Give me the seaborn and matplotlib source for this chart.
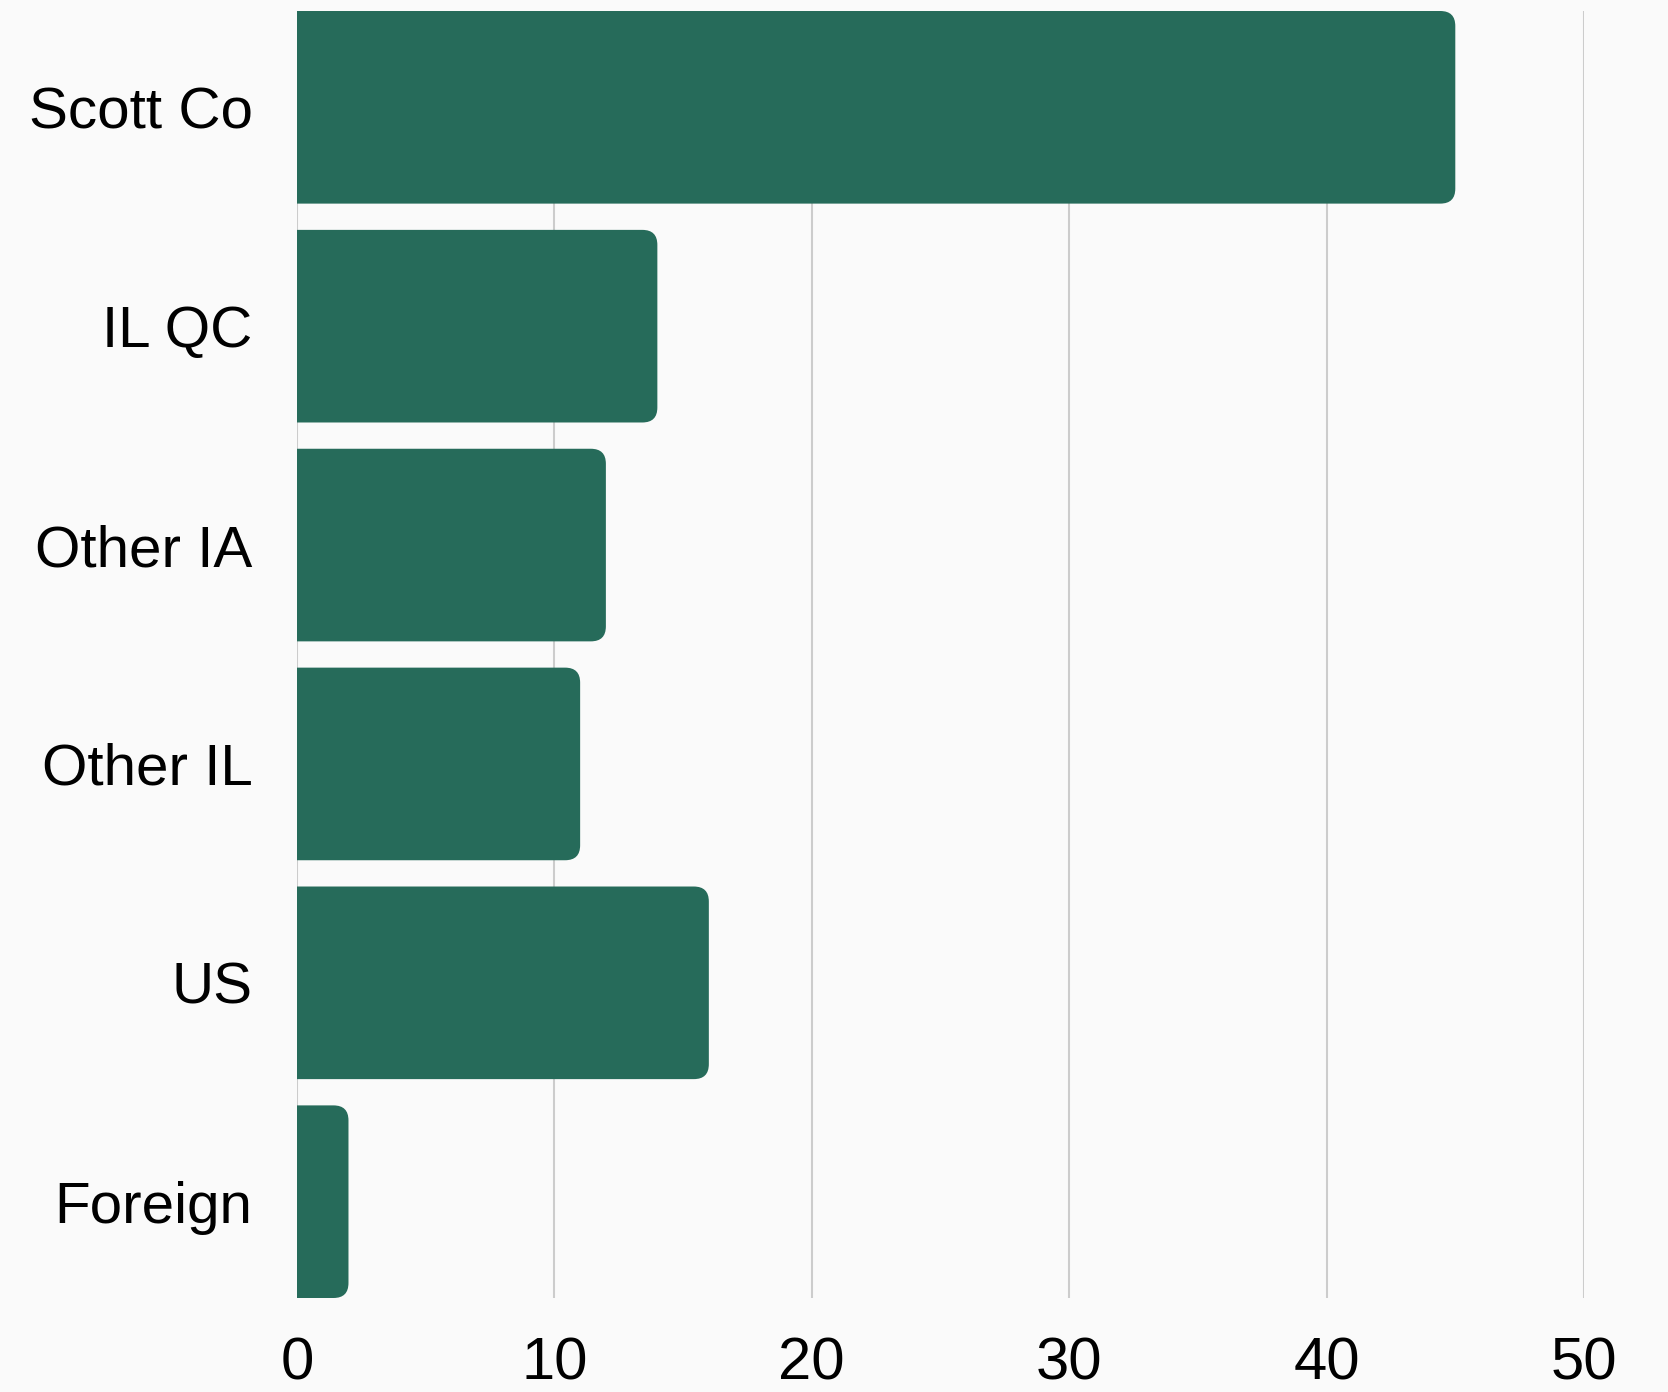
import matplotlib
matplotlib.use("Agg")
import matplotlib.pyplot as plt
from matplotlib.path import Path
from matplotlib.patches import PathPatch
import seaborn as sns
import pandas as pd

regions = ["Scott Co", "IL QC", "Other IA", "Other IL", "US", "Foreign"]
counts = [45, 14, 12, 11, 16, 2]
ticks = [0, 10, 20, 30, 40, 50]

BG = "#fafafa"
BAR = "#266b5a"

sns.set_theme(style="white")
plt.rcParams["font.family"] = ["Liberation Sans", "DejaVu Sans"]

df = pd.DataFrame({"region": regions, "count": counts})

fig = plt.figure(figsize=(16.68, 13.92), dpi=100, facecolor=BG)
ax = fig.add_axes([297 / 1668, 94 / 1392, (1584 - 297) / 1668, (1381 - 94) / 1392])
ax.set_facecolor(BG)

sns.barplot(data=df, x="count", y="region", color=BAR, width=0.88, saturation=1, ax=ax, zorder=3)
ax.set_xlim(0, 50)
ax.set_ylim(5.44, -0.44)

# rounded right corners (radius ~15 px)
fig.canvas.draw()
bb = ax.get_window_extent()
px_x = 50 / bb.width
px_y = 5.88 / bb.height
rx, ry = 15 * px_x, 15 * px_y
for p in list(ax.patches):
    x0, y0, w, h = p.get_x(), p.get_y(), p.get_width(), p.get_height()
    x1, y1 = x0 + w, y0 + h
    r_x = min(rx, w / 2)
    verts = [(x0, y0), (x1 - r_x, y0), (x1, y0), (x1, y0 + ry),
             (x1, y1 - ry), (x1, y1), (x1 - r_x, y1), (x0, y1), (x0, y0)]
    codes = [Path.MOVETO, Path.LINETO, Path.CURVE3, Path.CURVE3,
             Path.LINETO, Path.CURVE3, Path.CURVE3, Path.LINETO, Path.CLOSEPOLY]
    ax.add_patch(PathPatch(Path(verts, codes), facecolor=BAR, edgecolor="none", zorder=3))
    p.remove()

ax.set_xticks(ticks)
ax.grid(axis="x", color="#cccccc", linewidth=1.5, zorder=0)
ax.grid(axis="y", visible=False)
for s in ax.spines.values():
    s.set_visible(False)
ax.tick_params(axis="x", labelsize=43, pad=28, length=0, colors="black")
ax.tick_params(axis="y", labelsize=42, pad=32, length=0, colors="black")
ax.set_xlabel("")
ax.set_ylabel("")

fig.savefig("out.png", dpi=100, facecolor=BG)
